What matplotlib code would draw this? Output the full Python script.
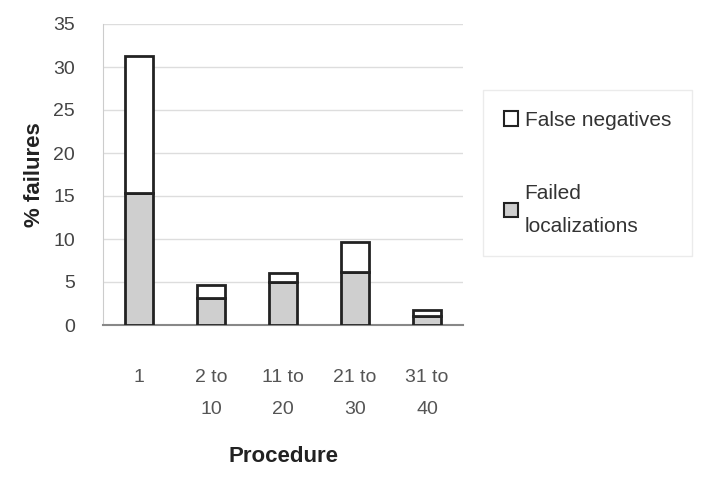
import matplotlib
matplotlib.use("Agg")
import matplotlib.pyplot as plt
import numpy as np

plt.rcParams["font.family"] = ["Liberation Sans", "DejaVu Sans"]

categories = ["1", "2 to\n10", "11 to\n20", "21 to\n30", "31 to\n40"]
failed_localizations = [15.3, 3.1, 5.0, 6.2, 1.0]
false_negatives = [16.0, 1.55, 1.0, 3.45, 0.7]
yticks = [0, 5, 10, 15, 20, 25, 30, 35]

fig = plt.figure(figsize=(7.07, 4.79), dpi=100)
ax = fig.add_axes([103/707, 1 - 325/479, 360/707, (325-24)/479])

x = np.arange(len(categories))
w = 0.4
ax.bar(x, failed_localizations, w, color="#cfcfcf", edgecolor="#222222", linewidth=2, label="Failed\nlocalizations", zorder=3)
ax.bar(x, false_negatives, w, bottom=failed_localizations, color="white", edgecolor="#222222", linewidth=2, label="False negatives", zorder=3)

ax.set_xlim(-0.5, len(categories) - 0.5)
ax.set_ylim(0, 35)
ax.set_yticks(yticks)
ax.set_yticklabels([str(t) for t in yticks], fontsize=14, color="#444444")
ax.set_xticks(x)
ax.set_xticklabels(categories, fontsize=14, color="#555555", linespacing=2.1)
ax.tick_params(axis="y", length=0, pad=20)
ax.tick_params(axis="x", length=0, pad=32)
ax.yaxis.grid(True, color="#dddddd", linewidth=1, zorder=0)
for s in ["top", "right"]:
    ax.spines[s].set_visible(False)
ax.spines["left"].set_color("#cccccc")
ax.spines["bottom"].set_color("#888888")
ax.spines["bottom"].set_linewidth(1.5)

ax.set_ylabel("% failures", fontsize=16, fontweight="bold", color="#222222", labelpad=6)
ax.set_xlabel("Procedure", fontsize=16, fontweight="bold", color="#222222", labelpad=20)

handles, labels = ax.get_legend_handles_labels()
leg = fig.legend(handles[::-1], labels[::-1], loc="upper left", bbox_to_anchor=(483/707, 1 - 90/479),
                 frameon=True, fontsize=15, handlelength=0.7, handleheight=0.7, handletextpad=0.3,
                 labelspacing=2.6, borderpad=1.0, borderaxespad=0, labelcolor="#333333")
leg.get_texts()[1].set_linespacing(1.9)
leg.get_frame().set_edgecolor("#e6e6e6")
leg.get_frame().set_linewidth(1)
leg.get_frame().set_boxstyle("square", pad=0)
for h in leg.legend_handles:
    h.set_linewidth(1.5)

fig.savefig("out.png", dpi=100)
